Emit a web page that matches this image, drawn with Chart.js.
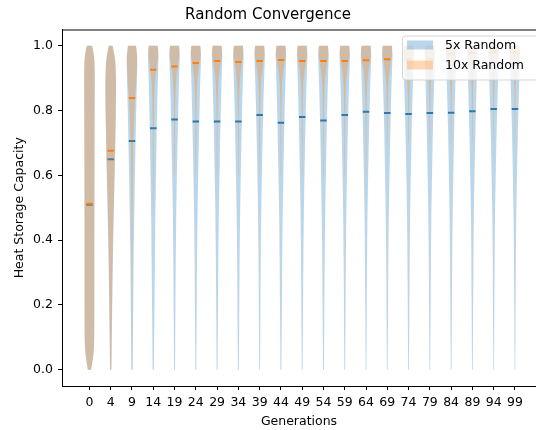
<!DOCTYPE html>
<html>
<head>
<meta charset="utf-8">
<script src="https://cdn.jsdelivr.net/npm/chart.js@4.4.0/dist/chart.umd.min.js"></script>
<style>
  html, body { margin: 0; padding: 0; background: #fff; }
  #wrap { width: 536px; height: 430px; }
</style>
</head>
<body>
<div id="wrap"><canvas id="violinChart"></canvas></div>
<script>
// generations shown on the x axis (one violin pair each)
const generations = [0, 4, 9, 14, 19, 24, 29, 34, 39, 44, 49, 54, 59, 64, 69, 74, 79, 84, 89, 94, 99];

// mean heat storage capacity per generation
const mean5x  = [0.509, 0.650, 0.706, 0.745, 0.772, 0.766, 0.766, 0.766, 0.786, 0.762, 0.780,
                 0.769, 0.786, 0.796, 0.792, 0.789, 0.792, 0.793, 0.798, 0.805, 0.805];
const mean10x = [0.512, 0.676, 0.839, 0.926, 0.936, 0.947, 0.953, 0.950, 0.953, 0.956, 0.953,
                 0.953, 0.953, 0.955, 0.958, 0.958, 0.960, 0.975, 0.978, 0.980, 0.980];

// heat storage levels where the violin width (relative density) is read
const levels = [0, 0.05, 0.1, 0.2, 0.3, 0.4, 0.5, 0.6, 0.7, 0.8, 0.85, 0.9, 0.95, 0.975, 1.0];

// relative violin widths (1 = widest point), null = outside the data range
const width5x = [
  [0.30, 0.82, 0.90, 0.92, 0.92, 0.92, 0.93, 0.94, 0.95, 0.97, 0.98, 1.00, 0.95, 0.82, 0.50],
  [0.13, 0.17, 0.21, 0.29, 0.37, 0.47, 0.60, 0.74, 0.87, 0.97, 1.00, 1.00, 0.88, 0.65, 0.35],
  [0.13, 0.15, 0.18, 0.23, 0.28, 0.35, 0.45, 0.55, 0.67, 0.79, 0.86, 0.93, 1.00, 0.95, 0.75],
  [0.12, 0.14, 0.17, 0.23, 0.29, 0.34, 0.41, 0.51, 0.61, 0.72, 0.79, 0.87, 0.97, 1.00, 0.85],
  [0.09, 0.11, 0.13, 0.17, 0.21, 0.26, 0.33, 0.44, 0.56, 0.69, 0.77, 0.85, 0.96, 1.00, 0.85],
  [0.09, 0.11, 0.13, 0.17, 0.21, 0.26, 0.34, 0.45, 0.56, 0.69, 0.77, 0.85, 0.96, 1.00, 0.85],
  [0.09, 0.11, 0.13, 0.17, 0.21, 0.26, 0.34, 0.45, 0.56, 0.69, 0.77, 0.85, 0.96, 1.00, 0.85],
  [0.09, 0.11, 0.13, 0.17, 0.21, 0.26, 0.34, 0.45, 0.56, 0.69, 0.77, 0.85, 0.96, 1.00, 0.85],
  [0.08, 0.10, 0.12, 0.15, 0.19, 0.24, 0.31, 0.42, 0.53, 0.67, 0.75, 0.84, 0.95, 1.00, 0.86],
  [0.09, 0.11, 0.13, 0.18, 0.22, 0.27, 0.35, 0.46, 0.57, 0.70, 0.78, 0.86, 0.96, 1.00, 0.85],
  [0.08, 0.10, 0.12, 0.16, 0.20, 0.25, 0.32, 0.43, 0.54, 0.68, 0.76, 0.84, 0.95, 1.00, 0.86],
  [0.09, 0.11, 0.13, 0.17, 0.21, 0.26, 0.34, 0.45, 0.56, 0.69, 0.77, 0.85, 0.96, 1.00, 0.85],
  [0.08, 0.10, 0.12, 0.15, 0.19, 0.24, 0.31, 0.42, 0.53, 0.67, 0.75, 0.84, 0.95, 1.00, 0.86],
  [0.07, 0.09, 0.11, 0.14, 0.18, 0.22, 0.29, 0.40, 0.52, 0.66, 0.74, 0.83, 0.95, 1.00, 0.87],
  [0.07, 0.09, 0.11, 0.15, 0.18, 0.23, 0.30, 0.41, 0.52, 0.66, 0.75, 0.83, 0.95, 1.00, 0.86],
  [0.07, 0.09, 0.12, 0.15, 0.19, 0.23, 0.31, 0.41, 0.53, 0.67, 0.75, 0.84, 0.95, 1.00, 0.86],
  [0.07, 0.09, 0.11, 0.15, 0.18, 0.23, 0.30, 0.41, 0.52, 0.66, 0.75, 0.83, 0.95, 1.00, 0.86],
  [0.07, 0.09, 0.11, 0.15, 0.18, 0.23, 0.30, 0.41, 0.52, 0.66, 0.75, 0.83, 0.95, 1.00, 0.86],
  [0.07, 0.09, 0.11, 0.14, 0.18, 0.22, 0.29, 0.40, 0.52, 0.66, 0.74, 0.83, 0.95, 1.00, 0.87],
  [0.06, 0.08, 0.10, 0.13, 0.16, 0.20, 0.27, 0.38, 0.50, 0.65, 0.74, 0.83, 0.95, 1.00, 0.88],
  [0.06, 0.08, 0.10, 0.13, 0.16, 0.20, 0.27, 0.38, 0.50, 0.65, 0.74, 0.83, 0.95, 1.00, 0.88]
];
const width10x = [
  [0.30, 0.82, 0.90, 0.92, 0.92, 0.92, 0.93, 0.94, 0.95, 0.97, 0.98, 1.00, 0.96, 0.82, 0.50],
  [0.10, 0.14, 0.17, 0.24, 0.32, 0.42, 0.55, 0.70, 0.85, 0.96, 1.00, 1.00, 0.90, 0.68, 0.38],
  [0.03, 0.03, 0.04, 0.05, 0.06, 0.08, 0.11, 0.16, 0.24, 0.43, 0.62, 0.85, 1.00, 0.95, 0.75],
  [null, null, null, null, null, null, 0.04, 0.06, 0.09, 0.14, 0.20, 0.34, 0.75, 1.00, 0.82],
  [null, null, null, null, null, null, null, 0.05, 0.07, 0.11, 0.17, 0.30, 0.72, 1.00, 0.82],
  [null, null, null, null, null, null, null, 0.04, 0.06, 0.10, 0.15, 0.28, 0.70, 1.00, 0.83],
  [null, null, null, null, null, null, null, 0.04, 0.06, 0.10, 0.15, 0.27, 0.70, 1.00, 0.84],
  [null, null, null, null, null, null, null, 0.04, 0.06, 0.10, 0.15, 0.28, 0.70, 1.00, 0.83],
  [null, null, null, null, null, null, null, 0.04, 0.06, 0.10, 0.15, 0.27, 0.70, 1.00, 0.84],
  [null, null, null, null, null, null, null, 0.04, 0.06, 0.09, 0.14, 0.26, 0.70, 1.00, 0.85],
  [null, null, null, null, null, null, null, 0.04, 0.06, 0.10, 0.15, 0.27, 0.70, 1.00, 0.84],
  [null, null, null, null, null, null, null, 0.04, 0.06, 0.10, 0.15, 0.27, 0.70, 1.00, 0.84],
  [null, null, null, null, null, null, null, 0.04, 0.06, 0.10, 0.15, 0.27, 0.70, 1.00, 0.84],
  [null, null, null, null, null, null, null, 0.04, 0.06, 0.09, 0.14, 0.26, 0.70, 1.00, 0.85],
  [null, null, null, null, null, null, null, null, 0.05, 0.09, 0.13, 0.25, 0.68, 1.00, 0.86],
  [null, null, null, null, null, null, null, null, 0.05, 0.09, 0.13, 0.25, 0.68, 1.00, 0.86],
  [null, null, null, null, null, null, null, null, 0.05, 0.08, 0.12, 0.24, 0.66, 1.00, 0.86],
  [null, null, null, null, null, null, null, null, 0.04, 0.07, 0.10, 0.20, 0.62, 1.00, 0.88],
  [null, null, null, null, null, null, null, null, 0.04, 0.07, 0.10, 0.20, 0.62, 1.00, 0.88],
  [null, null, null, null, null, null, null, null, 0.03, 0.06, 0.09, 0.18, 0.60, 1.00, 0.90],
  [null, null, null, null, null, null, null, null, 0.03, 0.06, 0.09, 0.18, 0.60, 1.00, 0.90]
];

const seriesNames = ['5x Random', '10x Random'];
const seriesRgb = ['31, 119, 180', '255, 127, 14'];
const FONT = 'DejaVu Sans';

// smooth path through a list of [x, y] pixels
function traceEdge(ctx, pts, start) {
  if (start) ctx.moveTo(pts[0][0], pts[0][1]);
  else ctx.lineTo(pts[0][0], pts[0][1]);
  for (let k = 1; k < pts.length - 1; k++) {
    const mx = (pts[k][0] + pts[k + 1][0]) / 2;
    const my = (pts[k][1] + pts[k + 1][1]) / 2;
    ctx.quadraticCurveTo(pts[k][0], pts[k][1], mx, my);
  }
  const last = pts[pts.length - 1];
  ctx.lineTo(last[0], last[1]);
}

// violin bodies, drawn just before each series' mean markers
const violinPlugin = {
  id: 'violins',
  beforeDatasetDraw(chart, args) {
    const widths = args.index === 0 ? width5x : width10x;
    const rgb = seriesRgb[args.index];
    const xs = chart.scales.x, ys = chart.scales.y;
    const ctx = chart.ctx;
    ctx.save();
    ctx.fillStyle = 'rgba(' + rgb + ', 0.3)';
    widths.forEach((profile, i) => {
      const pts = [];
      profile.forEach((w, k) => { if (w !== null) pts.push([w, levels[k]]); });
      const left = pts.map(([w, v]) => [xs.getPixelForValue(i - 0.25 * w), ys.getPixelForValue(v)]);
      const right = pts.map(([w, v]) => [xs.getPixelForValue(i + 0.25 * w), ys.getPixelForValue(v)]).reverse();
      ctx.beginPath();
      traceEdge(ctx, left, true);
      traceEdge(ctx, right, false);
      ctx.closePath();
      ctx.fill();
    });
    ctx.restore();
  }
};

// top spine + matplotlib style legend inside the axes
const frameLegendPlugin = {
  id: 'frameLegend',
  afterDatasetsDraw(chart) {
    const {ctx, chartArea} = chart;
    ctx.save();
    ctx.strokeStyle = '#000';
    ctx.lineWidth = 1;
    ctx.beginPath();
    ctx.moveTo(chartArea.left, chartArea.top + 0.5);
    ctx.lineTo(chartArea.right, chartArea.top + 0.5);
    ctx.stroke();

    const bx = chartArea.right - 133.5, by = chartArea.top + 6.5;
    ctx.beginPath();
    ctx.roundRect(bx, by, 140, 44, 3);
    ctx.fillStyle = 'rgba(255, 255, 255, 0.8)';
    ctx.fill();
    ctx.strokeStyle = 'rgba(204, 204, 204, 0.8)';
    ctx.stroke();

    ctx.font = '12.5px "' + FONT + '"';
    ctx.textBaseline = 'middle';
    ctx.textAlign = 'left';
    seriesNames.forEach((name, s) => {
      const py = by + 4.5 + s * 20;
      ctx.fillStyle = 'rgba(' + seriesRgb[s] + ', 0.3)';
      ctx.fillRect(bx + 4.5, py, 26, 9);
      ctx.fillStyle = '#000';
      ctx.fillText(name, bx + 42.5, py + 5.5);
    });
    ctx.restore();
  }
};

Chart.defaults.font.family = FONT;
Chart.defaults.color = '#000';

new Chart(document.getElementById('violinChart'), {
  type: 'scatter',
  data: {
    datasets: [
      {
        label: seriesNames[0],
        data: mean5x.map((m, i) => ({x: i, y: m})),
        pointStyle: 'line',
        pointRadius: 3.2,
        borderWidth: 2,
        borderColor: '#1f77b4',
        backgroundColor: '#1f77b4',
        order: 2
      },
      {
        label: seriesNames[1],
        data: mean10x.map((m, i) => ({x: i, y: m})),
        pointStyle: 'line',
        pointRadius: 3.2,
        borderWidth: 2,
        borderColor: '#ff7f0e',
        backgroundColor: '#ff7f0e',
        order: 1
      }
    ]
  },
  options: {
    responsive: true,
    maintainAspectRatio: false,
    animation: false,
    events: [],
    layout: { padding: 0, autoPadding: false },
    plugins: {
      legend: { display: false },
      tooltip: { enabled: false },
      title: {
        display: true,
        text: 'Random Convergence',
        font: { size: 15, weight: 'normal' },
        padding: { top: 6, bottom: 5.5 }
      }
    },
    scales: {
      x: {
        type: 'linear',
        min: -1.29,
        max: 20.99,
        afterBuildTicks: s => { s.ticks = generations.map((g, i) => ({value: i})); },
        afterFit: s => { s.height = 44; s.paddingLeft = 0; s.paddingRight = 0; },
        ticks: {
          autoSkip: false,
          maxRotation: 0,
          padding: 5,
          font: { size: 12.5 },
          callback: v => generations[v]
        },
        grid: { drawOnChartArea: false, tickLength: 4, tickColor: '#000' },
        border: { color: '#000', width: 1 },
        title: { display: true, text: 'Generations', font: { size: 12.5 }, padding: { top: 0, bottom: 1 } }
      },
      y: {
        min: -0.05,
        max: 1.05,
        afterBuildTicks: s => { s.ticks = [0, 0.2, 0.4, 0.6, 0.8, 1.0].map(v => ({value: v})); },
        afterFit: s => { s.width = 62; s.paddingTop = 0; s.paddingBottom = 0; },
        ticks: {
          padding: 5,
          font: { size: 12.5 },
          callback: v => v.toFixed(1)
        },
        grid: { drawOnChartArea: false, tickLength: 4, tickColor: '#000' },
        border: { color: '#000', width: 1 },
        title: { display: true, text: 'Heat Storage Capacity', font: { size: 12.5 }, padding: { top: 12.5, bottom: 0 } }
      }
    }
  },
  plugins: [violinPlugin, frameLegendPlugin]
});
</script>
</body>
</html>
